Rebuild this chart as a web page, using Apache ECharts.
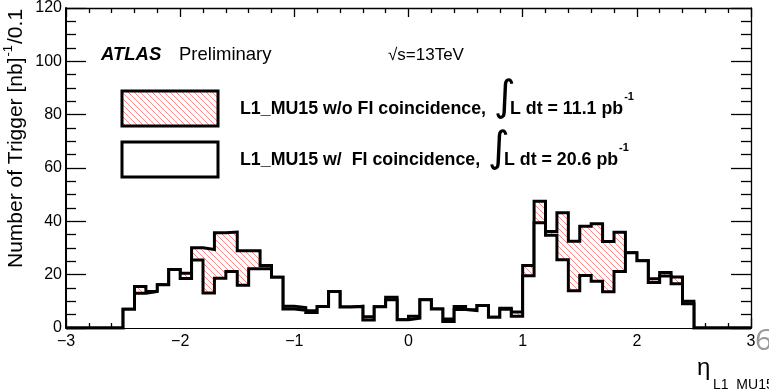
<!DOCTYPE html>
<html>
<head>
<meta charset="utf-8">
<script src="https://cdn.jsdelivr.net/npm/echarts@6/dist/echarts.min.js"></script>
<style>
  html, body { margin: 0; padding: 0; background: #fff; }
  #chart { width: 769px; height: 389px; }
</style>
</head>
<body>
<div id="chart"></div>
<script>
// Lower edges of the 60 eta bins (width 0.1) from -3 to 3
const binLow = Array.from({ length: 60 }, (_, i) => +(-3 + 0.1 * i).toFixed(1));
const etaMax = 3;

// Triggers per [nb]^-1 per 0.1 in eta, L1_MU15 without FI coincidence
const woFI = [
  0, 0, 0, 0, 0, 7.0, 15.6, 13.7, 16.2, 21.9,
  20.5, 30.1, 29.4, 35.7, 36.0, 29.0, 29.0, 23.4, 19.0, 8.2,
  7.7, 6.5, 8.1, 13.7, 7.9, 8.1, 4.2, 8.0, 11.5, 3.1,
  4.4, 10.6, 7.1, 3.4, 8.1, 6.8, 8.4, 4.0, 7.4, 6.0,
  23.4, 47.5, 36.2, 43.2, 32.5, 38.2, 39.1, 32.4, 35.9, 28.2,
  25.2, 18.5, 20.8, 19.1, 10.0, 0, 0, 0, 0, 0
];

// Same trigger with FI coincidence required
const wFI = [
  0, 0, 0, 0, 0, 7.0, 13.0, 13.7, 16.2, 21.9,
  18.6, 25.5, 13.1, 18.7, 21.2, 16.0, 22.2, 22.2, 19.0, 7.1,
  6.7, 5.8, 8.1, 13.7, 7.9, 8.1, 3.0, 8.0, 10.6, 3.1,
  3.7, 10.6, 7.1, 2.4, 6.9, 6.5, 8.4, 4.0, 7.0, 4.4,
  19.6, 39.5, 34.8, 25.6, 14.0, 19.7, 17.5, 13.6, 21.2, 28.2,
  25.2, 17.1, 19.5, 16.6, 9.1, 0, 0, 0, 0, 0
];

const yTicks = [0, 20, 40, 60, 80, 100, 120];
const xTicks = [-3, -2, -1, 0, 1, 2, 3];

// Red diagonal hatch used for the "w/o FI" fill
function hatchPattern() {
  const s = 6;
  const c = document.createElement('canvas');
  c.width = s; c.height = s;
  const g = c.getContext('2d');
  g.strokeStyle = 'rgba(255,40,40,0.7)';
  g.lineWidth = 0.8;
  for (const k of [-s, 0, s]) {
    g.beginPath();
    g.moveTo(k, 0);
    g.lineTo(k + s, s);
    g.stroke();
  }
  return { image: c, repeat: 'repeat' };
}
const hatch = hatchPattern();

// Histogram outline points: one point per bin lower edge plus the closing edge
function histPoints(vals) {
  const pts = vals.map((v, i) => [binLow[i], v]);
  pts.push([etaMax, vals[vals.length - 1]]);
  return pts;
}

const FONT = '"Liberation Sans", Arial, Helvetica, sans-serif';
const measure = (() => {
  const g = document.createElement('canvas').getContext('2d');
  return (text, font) => { g.font = font; return g.measureText(text).width; };
})();

const minus = v => String(v).replace('-', '\u2212');

// Rotated y-axis title, reading bottom to top
const yTitleFont = '21px ' + FONT;
const yTitleSupFont = '13px ' + FONT;
const yT1 = 'Number of Trigger [nb]', yT2 = '-1', yT3 = '/0.1';
const yW1 = measure(yT1, yTitleFont), yW2 = measure(yT2, yTitleSupFont);
const yTitleBottom = 268;

const chart = echarts.init(document.getElementById('chart'), null, { renderer: 'canvas' });

const tickLine = { color: '#000', width: 1.3 };

chart.setOption({
  animation: false,
  backgroundColor: '#fff',
  grid: { left: 66, right: 18, top: 8, bottom: 61, containLabel: false },
  xAxis: [
    {
      type: 'value', min: xTicks[0], max: xTicks[xTicks.length - 1], interval: 1,
      axisLine: { onZero: false, lineStyle: { color: '#000', width: 2 } },
      axisTick: { inside: true, length: 10, lineStyle: tickLine },
      minorTick: { show: true, splitNumber: 5, length: 5, lineStyle: tickLine },
      splitLine: { show: false },
      axisLabel: { color: '#000', fontSize: 16, fontFamily: FONT, margin: 6, formatter: minus }
    },
    {
      type: 'value', position: 'top', min: xTicks[0], max: xTicks[xTicks.length - 1], interval: 1,
      axisLine: { onZero: false, lineStyle: { color: '#000', width: 1.3 } },
      axisTick: { inside: true, length: 9, lineStyle: tickLine },
      minorTick: { show: true, splitNumber: 5, length: 5, lineStyle: tickLine },
      splitLine: { show: false },
      axisLabel: { show: false }
    }
  ],
  yAxis: [
    {
      type: 'value', min: yTicks[0], max: yTicks[yTicks.length - 1], interval: 20,
      axisLine: { show: true, onZero: false, lineStyle: { color: '#000', width: 2 } },
      axisTick: { show: true, inside: true, length: 20, lineStyle: tickLine },
      minorTick: { show: true, splitNumber: 4, length: 10, lineStyle: tickLine },
      splitLine: { show: false },
      axisLabel: { color: '#000', fontSize: 16, fontFamily: FONT, margin: 4 }
    },
    {
      type: 'value', position: 'right', min: yTicks[0], max: yTicks[yTicks.length - 1], interval: 20,
      axisLine: { show: true, onZero: false, lineStyle: { color: '#000', width: 1.3 } },
      axisTick: { show: true, inside: true, length: 20, lineStyle: tickLine },
      minorTick: { show: true, splitNumber: 4, length: 10, lineStyle: tickLine },
      splitLine: { show: false },
      axisLabel: { show: false }
    }
  ],
  series: [
    {
      name: 'L1_MU15 w/o FI coincidence',
      type: 'line', step: 'end', showSymbol: false, symbol: 'none',
      xAxisIndex: 0, yAxisIndex: 0,
      data: histPoints(woFI),
      lineStyle: { color: '#000', width: 3, join: 'miter', cap: 'butt' },
      areaStyle: { color: hatch, opacity: 1 },
      z: 3
    },
    {
      name: 'L1_MU15 w/ FI coincidence',
      type: 'line', step: 'end', showSymbol: false, symbol: 'none',
      xAxisIndex: 0, yAxisIndex: 0,
      data: histPoints(wFI),
      lineStyle: { color: '#000', width: 3, join: 'miter', cap: 'butt' },
      areaStyle: { color: '#fff', opacity: 1 },
      z: 4
    }
  ],
  graphic: [
    // y-axis title (rotated, reads bottom to top)
    {
      type: 'group', x: 16, y: yTitleBottom, rotation: Math.PI / 2,
      children: [
        { type: 'text', x: 0, y: 0, style: { text: yT1, font: yTitleFont, fill: '#000', textAlign: 'left', textVerticalAlign: 'middle' } },
        { type: 'text', x: yW1 + 1, y: -8, style: { text: yT2, font: yTitleSupFont, fill: '#000', textAlign: 'left', textVerticalAlign: 'middle' } },
        { type: 'text', x: yW1 + yW2 + 2, y: 0, style: { text: yT3, font: yTitleFont, fill: '#000', textAlign: 'left', textVerticalAlign: 'middle' } }
      ]
    },
    // x-axis title
    { type: 'text', x: 697, y: 368, style: { text: '\u03b7', font: '24px ' + FONT, fill: '#000', textVerticalAlign: 'middle' } },
    { type: 'text', x: 713, y: 385, style: { text: 'L1_MU15', font: '14px ' + FONT, fill: '#000', textVerticalAlign: 'middle' } },
    // slide page number
    { type: 'text', x: 755, y: 341, style: { text: '6', font: '30px "Open Sans", ' + FONT, fill: '#999', textVerticalAlign: 'middle' } },
    // labels
    { type: 'text', x: 101, y: 55, style: { text: 'ATLAS', font: 'italic bold 18.5px ' + FONT, fill: '#000', textVerticalAlign: 'middle' } },
    { type: 'text', x: 179, y: 55, style: { text: 'Preliminary', font: '18.5px ' + FONT, fill: '#000', textVerticalAlign: 'middle' } },
    { type: 'text', x: 388, y: 55, style: { text: '\u221as=13TeV', font: '17px ' + FONT, fill: '#000', textVerticalAlign: 'middle' } },
    // legend boxes
    { type: 'rect', shape: { x: 122, y: 91, width: 96, height: 35 }, style: { fill: hatch, stroke: '#000', lineWidth: 3 } },
    { type: 'rect', shape: { x: 122, y: 142, width: 96, height: 35 }, style: { fill: '#fff', stroke: '#000', lineWidth: 3 } },
    // legend texts
    { type: 'text', x: 240, y: 109, style: { text: 'L1_MU15 w/o FI coincidence,', font: 'bold 17.8px ' + FONT, fill: '#000', textVerticalAlign: 'middle' } },
    { type: 'text', x: 494, y: 99, style: { text: '\u222b', font: '42px "DejaVu Sans", ' + FONT, fill: '#000', textVerticalAlign: 'middle' } },
    { type: 'text', x: 510, y: 109, style: { text: 'L dt = 11.1 pb', font: 'bold 17.8px ' + FONT, fill: '#000', textVerticalAlign: 'middle' } },
    { type: 'text', x: 510 + measure('L dt = 11.1 pb', 'bold 17.8px ' + FONT) + 1, y: 97, style: { text: '-1', font: 'bold 11px ' + FONT, fill: '#000', textVerticalAlign: 'middle' } },
    { type: 'text', x: 240, y: 160, style: { text: 'L1_MU15 w/  FI coincidence,', font: 'bold 17.8px ' + FONT, fill: '#000', textVerticalAlign: 'middle' } },
    { type: 'text', x: 488, y: 150, style: { text: '\u222b', font: '42px "DejaVu Sans", ' + FONT, fill: '#000', textVerticalAlign: 'middle' } },
    { type: 'text', x: 504, y: 160, style: { text: 'L dt = 20.6 pb', font: 'bold 17.8px ' + FONT, fill: '#000', textVerticalAlign: 'middle' } },
    { type: 'text', x: 504 + measure('L dt = 20.6 pb', 'bold 17.8px ' + FONT) + 1, y: 148, style: { text: '-1', font: 'bold 11px ' + FONT, fill: '#000', textVerticalAlign: 'middle' } }
  ]
});
</script>
</body>
</html>
